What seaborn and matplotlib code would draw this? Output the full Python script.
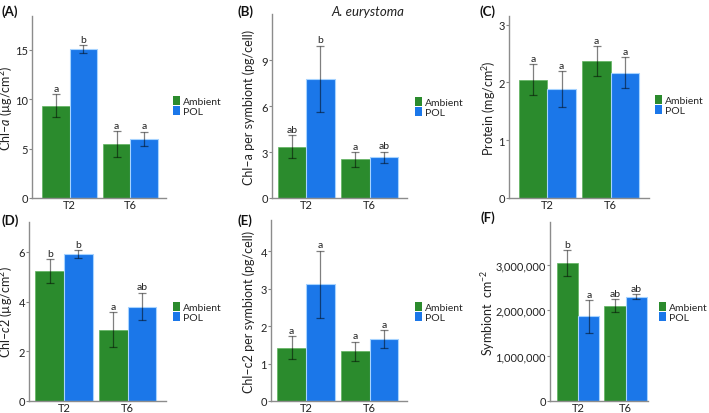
import numpy as np
import pandas as pd
import matplotlib
matplotlib.use("Agg")
import matplotlib.pyplot as plt
from matplotlib.patches import Patch
from matplotlib.ticker import FuncFormatter
import seaborn as sns

sns.set_style("white")
plt.rcParams['font.family'] = ['Lato', 'DejaVu Sans']
plt.rcParams['mathtext.fontset'] = 'custom'
plt.rcParams['mathtext.it'] = 'Lato:italic'
plt.rcParams['mathtext.rm'] = 'Lato'

times = ['T2', 'T6']
treatments = ['Ambient', 'POL']
colors = {'Ambient': '#2b8b2d', 'POL': '#1b77e9'}

# means per panel: [Ambient T2, Ambient T6], [POL T2, POL T6]
chla_amb = [9.33, 5.43]
chla_pol = [15.07, 5.97]
chla_amb_err = [1.17, 1.30]
chla_pol_err = [0.37, 0.72]
chla_amb_let = ['a', 'a']
chla_pol_let = ['b', 'a']

chlacell_amb = [3.35, 2.52]
chlacell_pol = [7.76, 2.65]
chlacell_amb_err = [0.73, 0.48]
chlacell_pol_err = [2.17, 0.36]
chlacell_amb_let = ['ab', 'a']
chlacell_pol_let = ['b', 'ab']

prot_amb = [2.05, 2.37]
prot_pol = [1.88, 2.17]
prot_amb_err = [0.27, 0.26]
prot_pol_err = [0.31, 0.27]
prot_amb_let = ['a', 'a']
prot_pol_let = ['a', 'a']

chlc2_amb = [5.23, 2.87]
chlc2_pol = [5.91, 3.80]
chlc2_amb_err = [0.48, 0.70]
chlc2_pol_err = [0.15, 0.55]
chlc2_amb_let = ['b', 'a']
chlc2_pol_let = ['b', 'ab']

chlc2cell_amb = [1.43, 1.33]
chlc2cell_pol = [3.12, 1.66]
chlc2cell_amb_err = [0.31, 0.26]
chlc2cell_pol_err = [0.90, 0.24]
chlc2cell_amb_let = ['a', 'a']
chlc2cell_pol_let = ['a', 'a']

sym_amb = [3040000, 2100000]
sym_pol = [1860000, 2300000]
sym_amb_err = [280000, 145000]
sym_pol_err = [360000, 50000]
sym_amb_let = ['b', 'ab']
sym_pol_let = ['a', 'ab']

# layout in pixels: axes box (left, right, top, bottom), ylabel right edge x, legend (x, y), panel label (x, y)
panels = [
    ('(A)', 'Chl–$a$ (µg/cm$^2$)', chla_amb, chla_pol, chla_amb_err, chla_pol_err,
     chla_amb_let, chla_pol_let, [0, 5, 10, 15], 18.4, (32, 166, 17, 199), (-0.62, 1.59),
     15.5, (173, 107), (2, 12)),
    ('(B)', 'Chl–a per symbiont (pg/cell)', chlacell_amb, chlacell_pol, chlacell_amb_err, chlacell_pol_err,
     chlacell_amb_let, chlacell_pol_let, [0, 3, 6, 9], 12.0, (272, 407, 15, 199), (-0.54, 1.59),
     255, (415, 108), (237, 12)),
    ('(C)', 'Protein (mg/cm$^2$)', prot_amb, prot_pol, prot_amb_err, prot_pol_err,
     prot_amb_let, prot_pol_let, [0, 1, 2, 3], 3.15, (509, 649, 17, 199), (-0.6, 1.6),
     498, (655, 106), (480, 12)),
    ('(D)', 'Chl–$c2$ (µg/cm$^2$)', chlc2_amb, chlc2_pol, chlc2_amb_err, chlc2_pol_err,
     chlc2_amb_let, chlc2_pol_let, [0, 2, 4, 6], 7.2, (29, 166, 223, 402), (-0.55, 1.6),
     15, (173, 313), (2, 221)),
    ('(E)', 'Chl–c2 per symbiont (pg/cell)', chlc2cell_amb, chlc2cell_pol, chlc2cell_amb_err, chlc2cell_pol_err,
     chlc2cell_amb_let, chlc2cell_pol_let, [0, 1, 2, 3, 4], 4.84, (271, 407, 221, 402), (-0.55, 1.59),
     255, (415, 313), (238, 221)),
    ('(F)', 'Symbiont  cm$^{-2}$', sym_amb, sym_pol, sym_amb_err, sym_pol_err,
     sym_amb_let, sym_pol_let, [0, 1000000, 2000000, 3000000], 3.94e6, (550, 648, 223, 402), (-0.59, 1.47),
     497, (659, 313), (481, 218)),
]

W, H = 709, 414
fig = plt.figure(figsize=(W / 100, H / 100), dpi=100)

for (lab, ylab, amb, pol, amb_e, pol_e, amb_l, pol_l, ticks, ytop, box, xlim,
     ylx, legpos, labpos) in panels:
    l, r, t, b = box
    ax = fig.add_axes([l / W, 1 - b / H, (r - l) / W, (b - t) / H])
    df = pd.DataFrame({
        'time': times * 2,
        'treatment': ['Ambient'] * 2 + ['POL'] * 2,
        'value': amb + pol,
    })
    sns.barplot(data=df, x='time', y='value', hue='treatment', hue_order=treatments,
                palette=colors, errorbar=None, width=0.9, saturation=1,
                legend=False, ax=ax)
    errs = [amb_e, pol_e]
    lets = [amb_l, pol_l]
    bar_conts = list(ax.containers)
    for k, cont in enumerate(bar_conts):
        for j, bar in enumerate(cont):
            if k == 1:
                bar.set_edgecolor('#a6d3ff')
                bar.set_linewidth(0.8)
            else:
                bar.set_edgecolor('#5fb35f')
                bar.set_linewidth(0.5)
            xc = bar.get_x() + bar.get_width() / 2
            h = bar.get_height()
            ax.errorbar(xc, h, yerr=errs[k][j], color='black', alpha=0.5,
                        lw=0.9, capsize=3, capthick=0.9)
            ax.annotate(lets[k][j], (xc, h + errs[k][j]), xytext=(0, 1),
                        textcoords='offset points', ha='center', va='bottom',
                        fontsize=7.5, color='#222222')
    ax.set_xlim(*xlim)
    ax.set_ylim(0, ytop)
    ax.set_yticks(ticks)
    if ticks[-1] > 1000:
        ax.yaxis.set_major_formatter(FuncFormatter(lambda v, p: f'{v:,.0f}'))
    ax.set_xlabel('')
    ax.set_ylabel(ylab, fontsize=9, color='#222222')
    ax.yaxis.set_label_coords((ylx - l) / (r - l), 0.5)
    ax.tick_params(axis='y', labelsize=8, colors='#222222', length=2,
                   width=0.8, pad=1, color='#888888', left=True)
    ax.tick_params(axis='x', labelsize=8, colors='#222222', length=0, pad=0.5)
    sns.despine(ax=ax)
    for s in ['left', 'bottom']:
        ax.spines[s].set_color('#8c8c8c')
        ax.spines[s].set_linewidth(1.0)
    handles = [Patch(facecolor=colors[tr], edgecolor='none') for tr in treatments]
    ax.legend(handles, treatments, loc='center left',
              bbox_to_anchor=(legpos[0] / W, 1 - legpos[1] / H), bbox_transform=fig.transFigure,
              frameon=False, fontsize=7.5, handlelength=0.7, handleheight=1.0,
              handletextpad=0.3, labelspacing=0.0, borderaxespad=0, borderpad=0)
    fig.text(labpos[0] / W, 1 - labpos[1] / H, lab,
             fontsize=9.5, fontweight='bold', ha='left', va='center', color='#111111')

fig.text(368 / W, 1 - 12 / H, 'A. eurystoma', fontsize=9.5, style='italic',
         ha='center', va='center', color='#222222')

fig.savefig('out.png', dpi=100)
